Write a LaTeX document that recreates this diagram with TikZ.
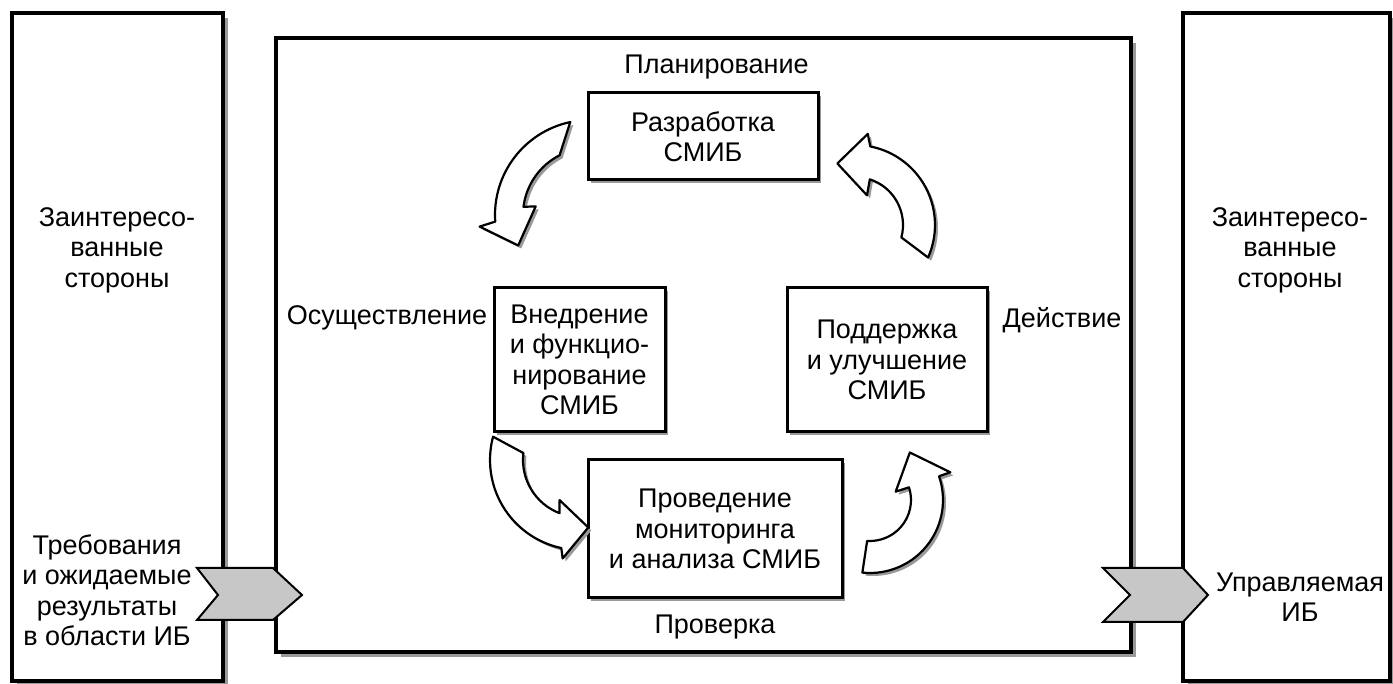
\documentclass[tikz,border=0pt]{standalone}
\usepackage{fontspec}
\setmainfont{Liberation Sans}
\usetikzlibrary{shadows}
\begin{document}
\begin{tikzpicture}[x=1pt,y=1pt,
  txt/.style={font=\fontsize{27}{30.5}\selectfont, align=center, inner sep=0pt},
  shad/.style={drop shadow={shadow xshift=#1, shadow yshift=-#1, fill=black!40, opacity=1}},
  bigbox/.style={draw, line width=3.5pt, fill=white, shad=5pt, inner sep=0pt},
  smallbox/.style={draw, line width=3pt, fill=white, shad=3pt, inner sep=0pt, txt},
  cyclearrow/.style={draw, line width=2.2pt, fill=white, line join=round, shad=3pt},
  chevron/.style={draw, line width=2pt, fill=black!22, line join=miter}
]
\useasboundingbox (0,0) rectangle (1393,684);
% outer boxes
\node[bigbox, minimum width=211pt, minimum height=668pt] (lbox) at (117.5,337) {};
\node[bigbox, minimum width=855pt, minimum height=614pt] (mbox) at (703.5,339) {};
\node[bigbox, minimum width=207pt, minimum height=668pt] (rbox) at (1286.5,337) {};
% inner boxes
\node[smallbox, minimum width=230pt, minimum height=87pt] (plan) at (703,547.5) {Разработка\\СМИБ};
\node[smallbox, minimum width=171pt, minimum height=144pt] (impl) at (579.5,324) {Внедрение\\и функцио-\\нирование\\СМИБ};
\node[smallbox, minimum width=200pt, minimum height=144pt] (act) at (887,324) {Поддержка\\и улучшение\\СМИБ};
\node[smallbox, minimum width=254pt, minimum height=138pt] (check) at (715,155) {Проведение\\мониторинга\\и анализа СМИБ};
% phase labels
\node[txt] (lplan) at (716.5,617) {Планирование};
\node[txt] (limpl) at (387,366) {Осуществление};
\node[txt] (lact) at (1062,364) {Действие};
\node[txt] (lcheck) at (715,57) {Проверка};
% side texts
\node[txt] (lstake) at (117,434) {Заинтересо-\\ванные\\стороны};
\node[txt] (rstake) at (1290,434) {Заинтересо-\\ванные\\стороны};
\node[txt] (req) at (107,94) {Требования\\и ожидаемые\\результаты\\в области ИБ};
\node[txt] (res) at (1300,87) {Управляемая\\ИБ};
% chevrons
\path[chevron] (197,116) -- (273,116) -- (302,89) -- (273,64) -- (197,64) -- (218,89) -- cycle;
\path[chevron] (1103,116) -- (1183,116) -- (1208,89) -- (1183,62) -- (1103,62) -- (1130,89) -- cycle;
% cycle arrows
\path[cyclearrow] ([shift={(590,469)}]102:95pt) arc[start angle=102, end angle=184, radius=95pt]
  -- ([shift={(590,469)}]186:111pt) -- ([shift={(590,469)}]203:78pt)
  -- ([shift={(590,469)}]171:55pt) -- ([shift={(590,469)}]173:67pt)
  arc[start angle=173, end angle=117, radius=67pt] -- cycle;
\path[cyclearrow] ([shift={(855,459)}]-24:80pt) arc[start angle=-24, end angle=79, radius=80pt]
  -- ([shift={(855,459)}]82:92pt) -- ([shift={(855,459)}]106:64pt)
  -- ([shift={(855,459)}]68:32pt) -- ([shift={(855,459)}]72:48pt)
  arc[start angle=72, end angle=-15, radius=48pt] -- cycle;
\path[cyclearrow] ([shift={(580,224)}]165:90pt) arc[start angle=165, end angle=258, radius=90pt]
  -- ([shift={(580,224)}]260:100pt) -- ([shift={(580,224)}]277:68pt)
  -- ([shift={(580,224)}]243:45pt) -- ([shift={(580,224)}]249:57pt)
  arc[start angle=249, end angle=173, radius=57pt] -- cycle;
\path[cyclearrow] ([shift={(870,184)}]264:73pt) arc[start angle=264, end angle=379, radius=73pt]
  -- ([shift={(870,184)}]379:85pt) -- ([shift={(870,184)}]410:62pt)
  -- ([shift={(870,184)}]378:27pt) -- ([shift={(870,184)}]378:41pt)
  arc[start angle=378, end angle=266, radius=41pt] -- cycle;
\end{tikzpicture}
\end{document}
